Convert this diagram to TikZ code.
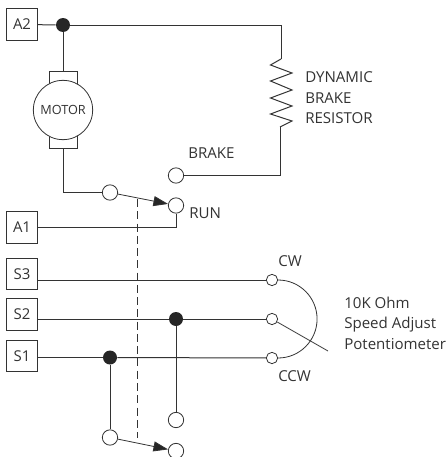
\documentclass[tikz,border=0pt]{standalone}
\usepackage{fontspec}
\setmainfont{Open Sans}
\usetikzlibrary{arrows.meta}
\definecolor{ink}{HTML}{333333}
\tikzset{
 terminal/.style={draw=ink,line width=0.7pt,minimum size=23.5pt,inner sep=0pt,text=ink,font=\fontsize{11.2}{13}\selectfont},
 contact/.style={circle,draw=ink,fill=white,line width=0.6pt,minimum size=11.5pt,inner sep=0pt},
 potpin/.style={circle,draw=ink,fill=white,line width=0.6pt,minimum size=8.5pt,inner sep=0pt},
 junction/.style={circle,fill=black!85,minimum size=10.5pt,inner sep=0pt},
 wire/.style={draw=ink,line width=0.75pt},
 lbl/.style={text=ink,inner sep=0pt,font=\fontsize{11.3}{15.4}\selectfont,align=left},
 arm/.style={draw=ink,line width=0.6pt,-{Triangle[length=11pt,width=7.5pt,fill=black!85]}}
}
\begin{document}
\begin{tikzpicture}[x=0.75pt,y=-0.75pt]
\useasboundingbox (0,0) rectangle (448,457);
\draw[draw=ink,line width=0.6pt,dash pattern=on 6pt off 3.2pt] (137,199) coordinate (gangtop) -- (137,438) coordinate (gangbot);
\path
node[terminal] (a2) at (22,24.5) {A2}
node[terminal] (a1) at (22,227.5) {A1}
node[terminal] (s3) at (22,274) {S3}
node[terminal] (s2) at (22,314.5) {S2}
node[terminal] (s1) at (22,356) {S1}
node[junction] (jm) at (63,25) {}
node[junction] (js2) at (176,319) {}
node[junction] (js1) at (110,357.5) {}
node[draw=ink,line width=0.6pt,minimum width=21pt,minimum height=10pt,inner sep=0pt] (brushtop) at (63,78) {}
node[draw=ink,line width=0.6pt,minimum width=21pt,minimum height=10pt,inner sep=0pt] (brushbot) at (63,141.5) {}
node[circle,draw=ink,fill=white,line width=0.6pt,minimum size=44.5pt,inner sep=0pt,text=ink,font=\fontsize{9.5}{11}\selectfont] (motor) at (63,110) {MOTOR}
node[contact] (sw1) at (110,192.5) {}
node[contact] (brake) at (176,175.5) {}
node[contact] (run) at (176,205.5) {}
node[contact] (sw2) at (110,437.5) {}
node[contact] (sw2a) at (176,420) {}
node[contact] (sw2b) at (176,451) {}
node[potpin] (cw) at (272,280) {}
node[potpin] (wiper) at (272,319) {}
node[potpin] (ccw) at (272,358) {}
coordinate (restop) at (281,59)
coordinate (resbot) at (280,127)
coordinate (wiperend) at (328,351);
\draw[wire] (a2) -- (jm);
\draw[wire] (jm) -- (brushtop);
\draw[wire] (jm) -| (restop);
\draw[wire,line join=miter] (restop) -- (270.5,65) -- (292,73) -- (270.5,81) -- (292,90) -- (270.5,98) -- (292,106) -- (270.5,114) -- (292,121) -- (resbot);
\draw[wire] (resbot) |- (brake);
\draw[wire] (brushbot) |- (sw1);
\draw[wire] (a1) -| (run);
\draw[arm] (sw1) -- (run);
\draw[wire] (s3.east |- cw) -- (cw);
\draw[wire] (s2.east |- js2) -- (js2);
\draw[wire] (js2) -- (wiper);
\draw[wire] (s1.east |- js1) -- (js1);
\draw[wire] (js1) -- (ccw);
\draw[wire] (js2) -- (sw2a);
\draw[wire] (js1) -- (sw2);
\draw[arm] (sw2) -- (sw2b);
\draw[draw=ink,line width=0.6pt] (cw.east) arc[start angle=90,end angle=-90,radius=29.25pt];
\draw[draw=ink,line width=0.6pt] (wiper) -- (wiperend);
\path
node[lbl,anchor=west] (lbrake) at (188,153) {BRAKE}
node[lbl,anchor=west] (lrun) at (189,213) {RUN}
node[lbl,anchor=west] (lres) at (305,98) {DYNAMIC\\BRAKE\\RESISTOR}
node[lbl,anchor=west] (lcw) at (278,261) {CW}
node[lbl,anchor=west] (lccw) at (278,376) {CCW}
node[lbl,anchor=west] (lpot) at (344,323) {10K Ohm\\Speed Adjust\\Potentiometer};
\end{tikzpicture}
\end{document}
